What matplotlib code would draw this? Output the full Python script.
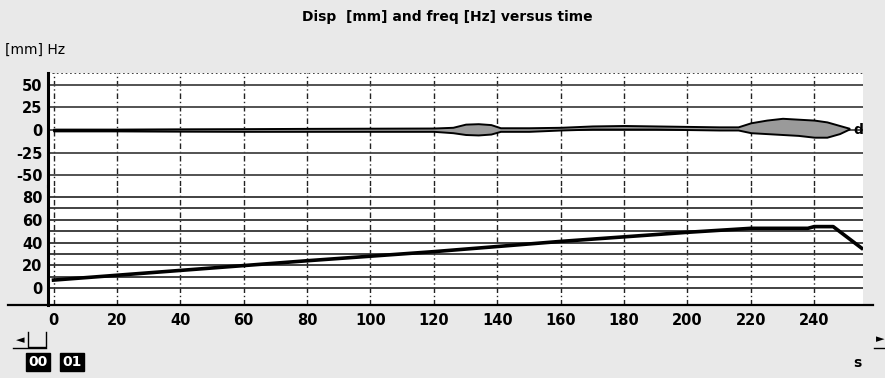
import matplotlib.pyplot as plt
from matplotlib.lines import Line2D

# time axis
time_ticks = [0, 20, 40, 60, 80, 100, 120, 140, 160, 180, 200, 220, 240]
mm_ticks = [50, 25, 0, -25, -50]
mm_labels = ['50', '25', '0', '-25', '-50']
hz_ticks = [80, 60, 40, 20, 0]
hz_labels = ['80', '60', '40', '20', '0']
hz_grid = [0, 10, 20, 30, 40, 50, 60, 70, 80]

# displacement trace, read as an envelope (upper / lower) in mm
disp_t = [0, 20, 40, 60, 80, 100, 120, 126, 130, 134, 138, 141, 150, 160,
          170, 180, 190, 200, 210, 216, 220, 225, 230, 235, 240, 244, 248, 251]
disp_up = [1.0, 1.0, 1.3, 1.5, 1.8, 2.0, 2.2, 3.0, 6.5, 7.0, 6.0, 2.5, 2.5, 3.0,
           4.5, 5.0, 4.5, 4.0, 3.5, 3.5, 8.0, 11.0, 13.0, 12.0, 11.0, 9.0, 5.0, 2.0]
disp_lo = [-1.0, -1.0, -1.3, -1.5, -1.5, -1.5, -1.5, -3.0, -5.0, -5.5, -4.5, -1.5, -1.5, 0.0,
           1.0, 1.0, 1.0, 0.5, 0.0, 0.0, -3.0, -4.0, -5.0, -6.0, -8.0, -8.0, -4.0, 1.0]

# frequency trace in Hz
freq_t = [0, 40, 80, 120, 160, 200, 220, 238, 240, 246, 255]
freq_hz = [7, 15.5, 24, 32, 41, 49, 52.5, 52.5, 54, 54, 35]

W, H = 885, 378
fig = plt.figure(figsize=(W / 100, H / 100), dpi=100, facecolor='#e9e9e9')

def px(x0, y0, x1, y1):
    # pixel box (top-left origin) -> figure rect
    return [x0 / W, 1 - y1 / H, (x1 - x0) / W, (y1 - y0) / H]

ax1 = fig.add_axes(px(48, 73, 863, 186))
ax2 = fig.add_axes(px(48, 186, 863, 305), sharex=ax1)

xlim = (-1.74, 255.4)
tick_font = dict(family='DejaVu Sans', weight='bold', size=10.5)

for ax in (ax1, ax2):
    ax.set_facecolor('white')
    ax.set_xlim(*xlim)
    for t in time_ticks:
        ax.axvline(t, color='#222222', lw=1.0, ls=(0, (4, 2, 1, 2)), zorder=1)
    for s in ('right', 'top', 'bottom'):
        ax.spines[s].set_visible(False)
    ax.spines['left'].set_linewidth(2.2)
    ax.tick_params(length=0)

# top panel: displacement
ax1.set_ylim(-62.2, 63.3)
for v in mm_ticks:
    ax1.axhline(v, color='#444444', lw=1.3, zorder=1)
ax1.axhline(63.3, color='#222222', lw=1.2, ls=':', zorder=1)
ax1.fill_between(disp_t, disp_lo, disp_up, facecolor='#9a9a9a',
                 edgecolor='black', lw=1.4, zorder=3)
ax1.text(252.5, 0, 'd', fontsize=10, fontweight='bold', va='center', ha='left')
ax1.set_yticks(mm_ticks)
ax1.set_yticklabels(mm_labels, **tick_font)
ax1.tick_params(axis='y', pad=4)
ax1.tick_params(axis='x', labelbottom=False)

# bottom panel: frequency
ax2.set_ylim(-14.9, 89.7)
for v in hz_grid:
    ax2.axhline(v, color='#333333', lw=1.3, zorder=1)
ax2.plot(freq_t, freq_hz, color='black', lw=2.6, zorder=3)
ax2.set_yticks(hz_ticks)
ax2.set_yticklabels(hz_labels, **tick_font)
ax2.tick_params(axis='y', pad=4)
ax2.set_xticks(time_ticks)
ax2.set_xticklabels([str(t) for t in time_ticks], **tick_font)
ax2.tick_params(axis='x', pad=6)

# long x-axis line under the plot
fig.add_artist(Line2D([8 / W, 873 / W], [1 - 305 / H] * 2, color='black', lw=1.6))

# title and unit label
fig.text(447 / W, 1 - 17 / H, 'Disp  [mm] and freq [Hz] versus time',
         ha='center', va='center', fontsize=10, fontweight='bold')
fig.text(5 / W, 1 - 50 / H, '[mm] Hz', ha='left', va='center', fontsize=10)

# scroll widgets at the bottom
fig.text(20 / W, 1 - 340 / H, '\u25c4', ha='center', va='center', fontsize=8)
fig.add_artist(Line2D([28 / W, 28 / W, 46 / W, 46 / W],
                      [1 - 332 / H, 1 - 347 / H, 1 - 347 / H, 1 - 332 / H],
                      color='black', lw=1.0))
fig.add_artist(Line2D([13 / W, 46 / W], [1 - 348 / H] * 2, color='black', lw=1.0))
fig.text(880 / W, 1 - 339 / H, '\u25ba', ha='center', va='center', fontsize=8)
fig.add_artist(Line2D([874 / W, 885 / W], [1 - 348 / H] * 2, color='black', lw=1.0))

box = dict(facecolor='black', edgecolor='black', pad=1.5)
fig.text(38 / W, 1 - 362 / H, '00', ha='center', va='center', color='white',
         fontsize=10, fontweight='bold', bbox=box)
fig.text(72 / W, 1 - 362 / H, '01', ha='center', va='center', color='white',
         fontsize=10, fontweight='bold', bbox=box)
fig.text(857 / W, 1 - 363 / H, 's', ha='center', va='center',
         fontsize=10, fontweight='bold')

fig.savefig('out.png', dpi=100, facecolor=fig.get_facecolor())
